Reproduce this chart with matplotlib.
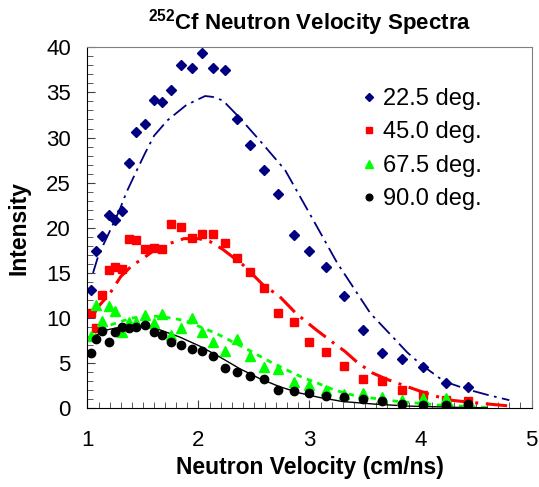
import matplotlib
matplotlib.use('Agg')
import matplotlib.pyplot as plt
from matplotlib.ticker import MultipleLocator

plt.rcParams['font.family'] = ['Liberation Sans', 'DejaVu Sans']
plt.rcParams['mathtext.fontset'] = 'custom'
plt.rcParams['mathtext.rm'] = 'Liberation Sans'
plt.rcParams['mathtext.bf'] = 'Liberation Sans:bold'

# measured points (shared velocity bins)
vel = [1.03, 1.08, 1.13, 1.19, 1.25, 1.31, 1.37, 1.44, 1.52, 1.60, 1.67, 1.75, 1.84, 1.94, 2.03, 2.13,
       2.24, 2.35, 2.46, 2.59, 2.72, 2.86, 3.00, 3.15, 3.31, 3.48, 3.65, 3.83, 4.02, 4.23, 4.43]
i225 = [13.1, 17.4, 19.1, 21.4, 20.9, 21.9, 27.2, 30.6, 31.5, 34.2, 33.9, 35.3, 38.0, 37.7, 39.4, 37.7,
        37.5, 32.1, 29.2, 26.4, 23.7, 19.2, 17.4, 15.7, 12.4, 8.7, 6.1, 5.5, 4.6, 2.8, 2.4]
i450 = [10.6, 8.9, 12.6, 15.3, 15.7, 15.4, 18.8, 18.6, 17.6, 17.8, 17.7, 20.4, 20.1, 18.9, 19.3, 19.3,
        18.3, 16.6, 15.1, 13.3, 10.6, 9.6, 7.3, 6.2, 4.7, 3.3, 3.0, 2.0, 1.5, 0.96, 0.8]
i675 = [8.0, 11.5, 9.7, 11.3, 10.8, 8.5, 9.6, 9.6, 10.3, 9.4, 10.5, 8.1, 8.9, 10.0, 8.5, 7.3,
        6.3, 7.7, 5.8, 4.6, 4.4, 2.9, 2.6, 2.0, 1.6, 1.7, 1.3, 0.9, 1.1, 1.1, 0.1]
i900 = [6.1, 7.7, 8.6, 7.3, 8.4, 9.0, 8.9, 9.0, 9.2, 8.4, 8.1, 7.3, 7.0, 6.6, 6.3, 5.8,
        4.5, 4.0, 3.6, 3.2, 2.0, 1.9, 1.7, 1.4, 1.3, 1.0, 0.8, 0.5, 0.4, 0.4, 0.5]

# fitted curves
fit225_x = [1.05, 1.10, 1.20, 1.29, 1.35, 1.43, 1.52, 1.60, 1.72, 1.89, 2.06, 2.13, 2.22, 2.37, 2.55,
            2.78, 3.00, 3.25, 3.55, 3.75, 3.88, 4.00, 4.21, 4.42, 4.60, 4.80]
fit225_y = [15.0, 17.0, 19.6, 22.0, 23.9, 26.0, 28.3, 30.2, 31.9, 33.6, 34.6, 34.5, 34.1, 32.2, 29.7,
            26.4, 21.6, 16.1, 10.5, 7.9, 6.2, 4.9, 3.0, 2.1, 1.5, 0.9]
fit450_x = [1.05, 1.10, 1.20, 1.30, 1.40, 1.50, 1.60, 1.75, 1.87, 2.00, 2.10, 2.22, 2.40, 2.58, 2.73,
            2.88, 3.06, 3.21, 3.32, 3.43, 3.57, 3.70, 3.88, 4.09, 4.27, 4.54, 4.81]
fit450_y = [10.3, 11.3, 12.7, 14.6, 15.8, 16.6, 17.5, 18.3, 18.8, 18.8, 18.5, 17.6, 15.9, 13.7, 12.4,
            10.5, 8.7, 7.3, 6.3, 5.1, 3.9, 3.2, 2.4, 1.5, 0.9, 0.55, 0.25]
fit675_x = [1.05, 1.10, 1.20, 1.27, 1.40, 1.52, 1.61, 1.76, 1.88, 2.04, 2.16, 2.27, 2.43, 2.55, 2.67,
            2.82, 2.94, 3.05, 3.21, 3.34, 3.44, 3.73, 4.15, 4.60]
fit675_y = [7.8, 8.5, 9.2, 9.5, 10.0, 10.2, 10.2, 10.0, 9.7, 8.9, 8.3, 7.6, 6.6, 5.8, 5.0,
            4.1, 3.4, 2.9, 2.1, 1.6, 1.35, 0.85, 0.37, 0.1]
fit900_x = [1.05, 1.14, 1.30, 1.45, 1.55, 1.65, 1.83, 2.01, 2.19, 2.37, 2.55, 2.73, 2.91, 3.09, 3.30,
            3.57, 3.88, 4.33, 4.60]
fit900_y = [7.8, 8.6, 9.0, 9.2, 9.1, 8.7, 7.9, 6.9, 5.7, 4.4, 3.3, 2.4, 1.7, 1.2, 0.75,
            0.48, 0.25, 0.1, 0.05]

fig = plt.figure(figsize=(5.39, 4.87), dpi=100)
ax = fig.add_axes([0.1623, 0.1616, 0.8238, 0.7413])

ax.plot(fit225_x, fit225_y, color='#000080', lw=1.3, dashes=[9, 3, 1.5, 3])
ax.plot(fit450_x, fit450_y, color='#ff0000', lw=2.2, dashes=[7, 2.5, 1, 2.5])
ax.plot(fit675_x, fit675_y, color='#00ff00', lw=2.0, dashes=[2, 2])
ax.plot(fit900_x, fit900_y, color='black', lw=1.0)

ax.plot(vel, i225, ls='none', marker='D', ms=5, color='#000080', label='22.5 deg.')
ax.plot(vel, i450, ls='none', marker='s', ms=5.5, color='#ff0000', label='45.0 deg.')
ax.plot(vel, i675, ls='none', marker='^', ms=6.5, color='#00ff00', label='67.5 deg.')
ax.plot(vel, i900, ls='none', marker='o', ms=6, color='black', label='90.0 deg.')

ax.set_xlim(1, 5)
ax.set_ylim(0, 40)
ax.xaxis.set_major_locator(MultipleLocator(1))
ax.xaxis.set_minor_locator(MultipleLocator(0.1))
ax.yaxis.set_major_locator(MultipleLocator(5))
ax.yaxis.set_minor_locator(MultipleLocator(1))
ax.tick_params(which='both', direction='in', top=False, right=False, color='#404040', labelsize=16)
ax.tick_params(axis='x', which='major', length=6, pad=15.5)
ax.tick_params(axis='y', which='major', length=6, pad=12)
ax.tick_params(which='minor', length=4)
ax.spines['top'].set_color('#808080')
ax.spines['right'].set_color('#808080')
ax.spines['top'].set_linewidth(0.8)
ax.spines['right'].set_linewidth(0.8)

ax.set_xlabel('Neutron Velocity (cm/ns)', fontsize=16.5, fontweight='bold', labelpad=4)
ax.set_ylabel('Intensity', fontsize=16.5, fontweight='bold', labelpad=11)
ax.set_title(r'$^{\mathbf{252}}$Cf Neutron Velocity Spectra', fontsize=16, fontweight='bold', pad=13)

ax.legend(loc='upper left', bbox_to_anchor=(0.591, 0.913), frameon=False, fontsize=17,
          markerscale=0.8, handlelength=0.8, handletextpad=0.2, labelspacing=0.48, borderaxespad=0)

plt.savefig('out.png', dpi=100)
